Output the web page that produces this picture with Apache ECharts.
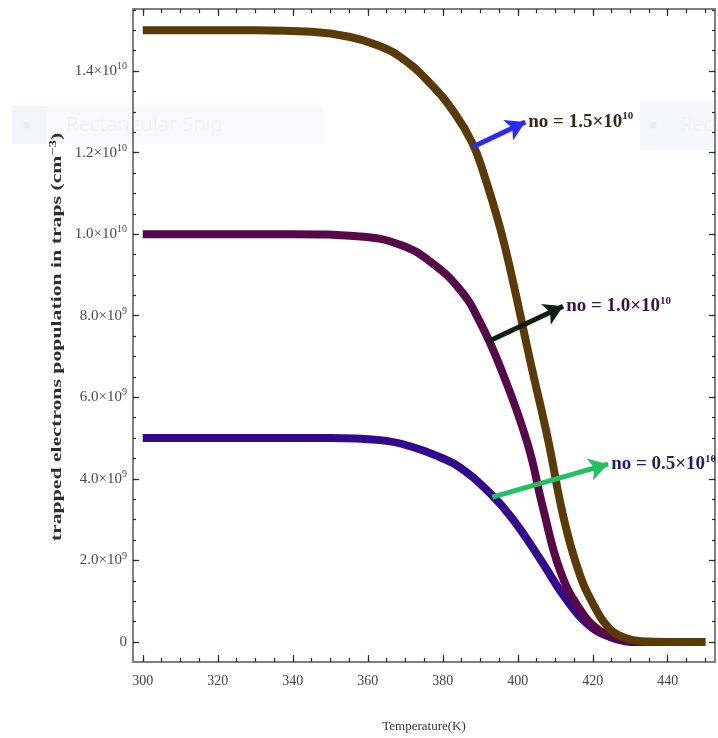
<!DOCTYPE html>
<html>
<head>
<meta charset="utf-8">
<title>trapped electrons population vs temperature</title>
<script src="https://cdn.jsdelivr.net/npm/echarts@6.0.0/dist/echarts.min.js"></script>
<style>
  html, body { margin: 0; padding: 0; background: #ffffff; }
  #chart { width: 718px; height: 738px; }
</style>
</head>
<body>
<div id="chart"></div>
<script>
// [temperature K, population in 1e9 cm^-3]
var curve15 = [[300, 15.0], [330, 15.0], [345, 14.96], [355, 14.84], [362, 14.65], [368.6, 14.35],
  [376.6, 13.7], [383.3, 12.95], [387.8, 12.25], [390.7, 11.55], [395.3, 10.15], [398.7, 8.85],
  [403.3, 6.9], [408.1, 4.95], [412.1, 3.1], [416, 1.8], [420, 0.95], [424.6, 0.32],
  [428.7, 0.1], [433, 0.02], [440, 0], [450, 0]];
var curve10 = [[300, 10.0], [340, 10.0], [358, 9.94], [368.6, 9.74], [376.6, 9.33], [384.6, 8.64],
  [389.9, 7.85], [395.3, 6.75], [402.5, 4.9], [406.7, 3.3], [411.3, 1.75], [416.6, 0.8],
  [422, 0.27], [427.3, 0.07], [432, 0], [450, 0]];
var curve05 = [[300, 5.0], [350, 5.0], [363.3, 4.95], [371.3, 4.8], [379.3, 4.53], [384.6, 4.28],
  [392.6, 3.65], [398.7, 3.01], [406, 2.03], [412.9, 1.05], [419.3, 0.39], [424.6, 0.12],
  [428.6, 0.02], [432, 0], [450, 0]];

// arrows: tail and tip in data units, and the n0 text at the tip
var arrowTails = [[388.1, 12.14], [392.1, 7.37], [393.2, 3.55]];
var arrowTips = [[402.0, 12.75], [412.1, 8.23], [424.1, 4.36]];
var arrowColors = ['#2a2af5', '#0d1f12', '#20c063'];
var noValues = ['1.5', '1.0', '0.5'];
var noTextColors = ['#3a2810', '#3a143e', '#1e1e6e'];

// ticks
var xMajor = [300, 320, 340, 360, 380, 400, 420, 440];
var yMajor = [0, 2, 4, 6, 8, 10, 12, 14];
var yMantissa = ['0', '2.0', '4.0', '6.0', '8.0', '1.0', '1.2', '1.4'];
var yExponent = ['', '9', '9', '9', '9', '10', '10', '10'];

var xMinor = [];
for (var t = 300; t <= 450; t += 5) xMinor.push(t);
var yMinor = [];
for (var v = 0; v <= 15.5; v += 0.5) yMinor.push(v);

var serif = 'Liberation Serif';
var frameGray = '#7f7f7f';
var tickDark = '#2a2a2a';
var xMin = 297.4, xMax = 452.6;
var yMin = -0.49, yMax = 15.52;

var chart = echarts.init(document.getElementById('chart'));

// 框线 + 刻度
function xAxisDef (position, ticks, len, line) {
  return {
    type: 'value', position: position, min: xMin, max: xMax,
    axisLine: { show: line, onZero: false, lineStyle: { color: frameGray, width: 2 } },
    axisTick: { show: true, inside: true, length: len, customValues: ticks,
      lineStyle: { color: tickDark, width: 1.2 } },
    axisLabel: { show: false },
    splitLine: { show: false }
  };
}
function yAxisDef (position, ticks, len, line) {
  return {
    type: 'value', position: position, min: yMin, max: yMax,
    axisLine: { show: line, onZero: false, lineStyle: { color: frameGray, width: 2 } },
    axisTick: { show: true, inside: true, length: len, customValues: ticks,
      lineStyle: { color: tickDark, width: 1.2 } },
    axisLabel: { show: false },
    splitLine: { show: false }
  };
}

var xBottom = xAxisDef('bottom', xMajor, 7, true);
xBottom.axisLabel = {
  show: true, customValues: xMajor, margin: 12,
  fontFamily: serif, fontSize: 14, color: '#444'
};
xBottom.name = 'Temperature(K)';
xBottom.nameLocation = 'middle';
xBottom.nameGap = 58;
xBottom.nameTextStyle = { fontFamily: serif, fontSize: 13, color: '#333' };

var yLeft = yAxisDef('left', yMajor, 6, true);
yLeft.axisLabel = {
  show: true, customValues: yMajor, margin: 6,
  formatter: function (val) {
    var i = yMajor.indexOf(val);
    if (i < 0) return '';
    if (!yExponent[i]) return '{m|' + yMantissa[i] + '}';
    return '{m|' + yMantissa[i] + '×10}{s|' + yExponent[i] + '}';
  },
  rich: {
    m: { fontFamily: serif, fontSize: 15, color: '#4a4a4a' },
    s: { fontFamily: serif, fontSize: 10, color: '#4a4a4a', padding: [0, 0, 9, 0] }
  }
};

function curveSeries (name, data, color) {
  return {
    name: name, type: 'line', data: data,
    xAxisIndex: 0, yAxisIndex: 0,
    showSymbol: false, smooth: 0.45,
    lineStyle: { color: color, width: 8 },
    silent: true
  };
}

var arrowLines = [];
var arrowTexts = [];
for (var i = 0; i < arrowTails.length; i++) {
  arrowLines.push([
    { coord: arrowTails[i], lineStyle: { color: arrowColors[i], width: 5, type: 'solid' } },
    { coord: arrowTips[i], lineStyle: { color: arrowColors[i], width: 5, type: 'solid' } }
  ]);
  arrowTexts.push({
    coord: arrowTips[i],
    label: {
      show: true, position: 'right', distance: 3,
      formatter: '{m|no = ' + noValues[i] + '×10}{s|10}',
      rich: {
        m: { fontFamily: serif, fontSize: 19, fontWeight: 'bold', color: noTextColors[i] },
        s: { fontFamily: serif, fontSize: 11, fontWeight: 'bold', color: noTextColors[i], padding: [0, 0, 11, 0] }
      }
    }
  });
}

var option = {
  animation: false,
  backgroundColor: '#ffffff',
  grid: { left: 133, right: 3, top: 9, bottom: 75, containLabel: false },
  xAxis: [
    xBottom,
    xAxisDef('bottom', xMinor, 4, false),
    xAxisDef('top', xMajor, 7, true),
    xAxisDef('top', xMinor, 4, false)
  ],
  yAxis: [
    yLeft,
    yAxisDef('left', yMinor, 3, false),
    yAxisDef('right', yMajor, 6, true),
    yAxisDef('right', yMinor, 3, false)
  ],
  graphic: [
    // 截图残留的浅色框
    { type: 'rect', z: -5, shape: { x: 12, y: 106, width: 311, height: 38 }, style: { fill: '#f7f9fd' } },
    { type: 'rect', z: -5, shape: { x: 12, y: 106, width: 34, height: 38 }, style: { fill: '#f2f5fa' } },
    { type: 'circle', z: -5, shape: { cx: 27, cy: 125, r: 3.5 }, style: { fill: '#e9ecf0' } },
    { type: 'text', z: -5, style: { text: 'Rectangular Snip', x: 66, y: 125, verticalAlign: 'middle',
      font: '20px "Open Sans"', fill: '#f0f2f6' } },
    { type: 'rect', z: -5, shape: { x: 640, y: 100, width: 78, height: 50 }, style: { fill: '#f4f7fb' } },
    { type: 'circle', z: -5, shape: { cx: 653, cy: 125, r: 3.5 }, style: { fill: '#e9ecf0' } },
    { type: 'text', z: -5, style: { text: 'Recta', x: 680, y: 125, verticalAlign: 'middle',
      font: '20px "Open Sans"', fill: '#f0f2f6' } },
    // y 轴标题 (原图竖向拉长)
    { type: 'text', z: 10, x: 57, y: 337, rotation: Math.PI / 2, scaleX: 1.45, scaleY: 1,
      style: {
        text: '{t|trapped electrons population in traps (cm}{s|−3}{t|)}',
        align: 'center', verticalAlign: 'middle',
        rich: {
          t: { fontFamily: serif, fontSize: 15, fontWeight: 'bold', fill: '#2e2e2e' },
          s: { fontFamily: serif, fontSize: 10, fontWeight: 'bold', fill: '#2e2e2e', padding: [0, 0, 8, 0] }
        }
      } }
  ],
  series: [
    curveSeries('no = 0.5×10^10', curve05, '#33088f'),
    curveSeries('no = 1.0×10^10', curve10, '#560848'),
    curveSeries('no = 1.5×10^10', curve15, '#5a3a06'),
    {
      name: 'arrows', type: 'line', data: [],
      markLine: {
        silent: true, symbol: ['none', 'arrow'], symbolSize: [17, 19],
        label: { show: false },
        data: arrowLines
      },
      markPoint: {
        silent: true, symbol: 'circle', symbolSize: 0,
        data: arrowTexts
      }
    }
  ]
};

chart.setOption(option);
</script>
</body>
</html>
